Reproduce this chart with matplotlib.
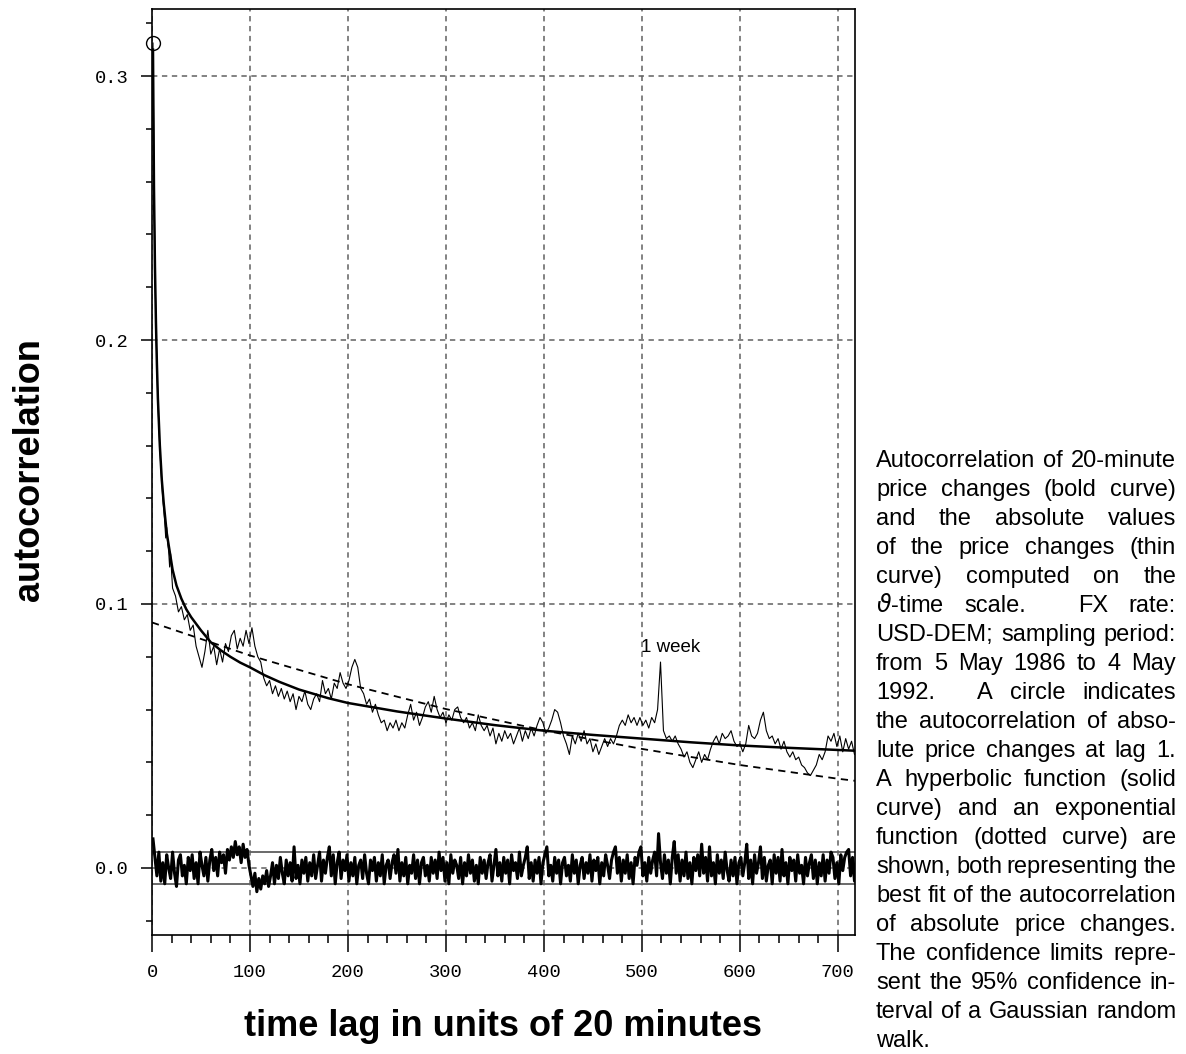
import numpy as np
import matplotlib
matplotlib.use('Agg')
from matplotlib import pyplot as plt
from matplotlib.ticker import MultipleLocator

W, H = 1186, 1054

# autocorrelation of absolute price changes (thin curve), lags 1..20
abs_lags_start = list(range(1, 21))
abs_start = [0.3125, 0.262, 0.229, 0.206, 0.190, 0.177, 0.167, 0.159, 0.152, 0.146,
             0.140, 0.136, 0.131, 0.125, 0.129, 0.123, 0.120, 0.114, 0.119, 0.112]

# same curve, lags 21, 24, ..., 717
abs_vals = [
    0.106, 0.103, 0.097, 0.099, 0.094, 0.096, 0.090, 0.092, 0.084, 0.080,
    0.076, 0.082, 0.090, 0.081, 0.084, 0.077, 0.083, 0.078, 0.085, 0.082,
    0.088, 0.090, 0.083, 0.087, 0.084, 0.090, 0.085, 0.091, 0.084, 0.080,
    0.078, 0.072, 0.069, 0.071, 0.066, 0.069, 0.065, 0.068, 0.064, 0.067,
    0.063, 0.066, 0.060, 0.065, 0.063, 0.067, 0.062, 0.060, 0.064, 0.066,
    0.063, 0.071, 0.066, 0.068, 0.064, 0.070, 0.068, 0.074, 0.070, 0.068,
    0.071, 0.076, 0.079, 0.076, 0.068, 0.066, 0.062, 0.064, 0.059, 0.062,
    0.058, 0.055, 0.056, 0.052, 0.055, 0.053, 0.056, 0.052, 0.055, 0.053,
    0.058, 0.062, 0.056, 0.059, 0.054, 0.057, 0.061, 0.063, 0.059, 0.065,
    0.060, 0.057, 0.059, 0.055, 0.058, 0.056, 0.060, 0.061, 0.057, 0.055,
    0.057, 0.053, 0.055, 0.052, 0.058, 0.054, 0.052, 0.054, 0.050, 0.053,
    0.047, 0.051, 0.048, 0.052, 0.049, 0.051, 0.047, 0.050, 0.053, 0.048,
    0.052, 0.049, 0.053, 0.050, 0.054, 0.057, 0.055, 0.051, 0.053, 0.056,
    0.060, 0.059, 0.055, 0.050, 0.047, 0.043, 0.050, 0.047, 0.051, 0.048,
    0.052, 0.047, 0.049, 0.044, 0.047, 0.043, 0.046, 0.049, 0.046, 0.049,
    0.047, 0.050, 0.054, 0.056, 0.054, 0.058, 0.055, 0.057, 0.054, 0.057,
    0.054, 0.056, 0.053, 0.057, 0.055, 0.060, 0.078, 0.052, 0.049, 0.050,
    0.048, 0.050, 0.047, 0.045, 0.042, 0.044, 0.040, 0.038, 0.041, 0.044,
    0.040, 0.043, 0.041, 0.045, 0.048, 0.050, 0.047, 0.051, 0.049, 0.050,
    0.052, 0.048, 0.046, 0.047, 0.044, 0.047, 0.054, 0.050, 0.049, 0.051,
    0.056, 0.059, 0.052, 0.049, 0.050, 0.047, 0.049, 0.045, 0.048, 0.044,
    0.042, 0.044, 0.041, 0.042, 0.039, 0.038, 0.036, 0.035, 0.037, 0.039,
    0.043, 0.041, 0.044, 0.050, 0.048, 0.051, 0.046, 0.050, 0.044, 0.049,
    0.045, 0.048, 0.043,
]
abs_lags = [21 + 3 * i for i in range(len(abs_vals))]

# autocorrelation of price changes (bold curve), lags 1, 3, ..., 719
raw_vals = [
    0.011, 0.004, -0.003, 0.006, -0.005, 0.002, -0.006, 0.005, 0.000, -0.004,
    0.006, -0.002, -0.007, 0.003, 0.005, -0.003, 0.001, -0.006, 0.004, -0.001,
    0.005, -0.004, 0.002, -0.006, 0.006, 0.001, -0.003, 0.004, -0.005, 0.003,
    0.007, -0.001, 0.004, -0.003, 0.006, 0.002, 0.005, -0.002, 0.007, 0.003,
    0.008, 0.004, 0.010, 0.005, 0.008, 0.002, 0.009, 0.004, 0.007, 0.001,
    -0.003, -0.007, -0.002, -0.009, -0.004, -0.008, -0.003, -0.006, -0.001, -0.007,
    -0.003, 0.002, -0.006, 0.001, -0.004, 0.004, -0.002, -0.006, 0.003, -0.003,
    0.002, -0.005, 0.008, -0.004, 0.001, -0.006, 0.003, -0.002, 0.004, -0.005,
    0.002, -0.003, 0.005, -0.004, 0.001, 0.006, -0.005, 0.003, -0.002, 0.004,
    0.008, -0.003, 0.005, -0.006, 0.002, 0.006, -0.004, 0.003, -0.001, 0.005,
    -0.005, 0.002, -0.003, 0.004, -0.006, 0.001, 0.003, -0.004, 0.005, -0.002,
    -0.006, 0.003, -0.001, 0.004, -0.005, 0.002, -0.003, 0.005, -0.006, 0.001,
    0.003, -0.004, 0.002, 0.005, -0.002, 0.007, -0.005, 0.002, -0.003, 0.004,
    -0.006, 0.001, -0.002, 0.005, -0.004, 0.003, -0.006, 0.002, 0.004, -0.003,
    0.001, -0.005, 0.004, -0.002, 0.003, -0.004, 0.006, -0.001, 0.004, -0.005,
    0.002, -0.006, 0.005, -0.002, 0.003, 0.001, -0.004, 0.004, -0.006, 0.002,
    -0.003, 0.005, -0.002, 0.003, -0.005, 0.001, -0.006, 0.004, -0.002, 0.003,
    -0.004, 0.002, 0.005, -0.005, 0.001, 0.007, -0.003, 0.002, -0.005, 0.004,
    -0.002, 0.003, -0.006, 0.005, -0.001, 0.002, -0.004, 0.006, -0.003, 0.001,
    0.004, 0.008, -0.004, 0.002, -0.005, 0.003, -0.002, 0.004, -0.006, 0.002,
    0.005, 0.008, -0.003, 0.001, -0.005, 0.004, -0.002, 0.003, -0.006, 0.002,
    0.004, -0.003, 0.001, -0.005, 0.005, -0.002, 0.003, -0.006, 0.001, 0.004,
    -0.004, 0.002, -0.002, 0.005, -0.005, 0.003, -0.001, 0.004, -0.006, 0.002,
    -0.003, 0.005, 0.001, -0.004, 0.003, 0.006, 0.008, -0.002, 0.004, -0.005,
    0.003, -0.002, 0.005, -0.004, 0.002, -0.006, 0.004, 0.001, 0.006, 0.008,
    -0.003, 0.002, -0.005, 0.004, -0.002, 0.003, 0.006, -0.003, 0.013, 0.002,
    -0.004, 0.005, -0.002, 0.003, -0.006, 0.004, 0.010, -0.002, 0.005, -0.005,
    0.003, -0.003, 0.006, -0.004, 0.002, -0.006, 0.004, -0.001, 0.005, -0.003,
    0.009, -0.002, 0.004, -0.005, 0.008, -0.003, 0.002, -0.006, 0.005, -0.002,
    0.003, -0.004, 0.006, -0.001, -0.005, 0.003, -0.003, 0.004, -0.006, 0.002,
    0.004, -0.003, 0.002, 0.009, -0.004, 0.003, -0.006, 0.005, -0.002, 0.002,
    0.008, -0.004, 0.004, -0.005, 0.001, 0.003, -0.006, 0.005, -0.002, 0.004,
    -0.005, 0.007, -0.003, 0.002, -0.006, 0.004, -0.001, 0.003, -0.005, 0.005,
    -0.002, 0.001, -0.006, 0.004, -0.003, 0.002, 0.005, -0.004, 0.003, -0.006,
    0.002, -0.003, 0.005, -0.005, 0.003, -0.002, 0.006, 0.004, -0.004, 0.002,
    -0.006, 0.005, -0.001, 0.004, 0.006, 0.007, -0.003, 0.004, -0.005, 0.003,
]
raw_lags = [1 + 2 * i for i in range(len(raw_vals))]

# hyperbolic fit (solid)
hyp_lags = [1, 2, 3, 4, 5, 6, 8, 10, 12, 15, 18, 21, 25, 30, 35, 40, 50, 60, 70,
            80, 90, 100, 115, 130, 150, 180, 200, 250, 300, 350, 400, 450, 500,
            550, 600, 650, 700, 718]
hyp_vals = [0.310, 0.258, 0.228, 0.207, 0.191, 0.178, 0.160, 0.147, 0.138, 0.127,
            0.120, 0.113, 0.107, 0.102, 0.098, 0.095, 0.090, 0.0855, 0.0825,
            0.0800, 0.0778, 0.0760, 0.0730, 0.0705, 0.0676, 0.0643, 0.0625,
            0.0593, 0.0566, 0.0541, 0.0520, 0.0504, 0.0490, 0.0476, 0.0464,
            0.0455, 0.0447, 0.0444]

# exponential fit (dashed)
exp_lags = [0, 100, 200, 300, 400, 500, 600, 700, 718]
exp_vals = [0.0930, 0.0805, 0.0696, 0.0602, 0.0521, 0.0451, 0.0390, 0.0338, 0.0330]

conf_limit = 0.006
circle_lag, circle_val = 1, 0.3125

caption = [
    "Autocorrelation of 20-minute",
    "price changes (bold curve)",
    "and the absolute values",
    "of the price changes (thin",
    "curve) computed on the",
    r"$\vartheta$-time scale. FX rate:",
    "USD-DEM; sampling period:",
    "from 5 May 1986 to 4 May",
    "1992. A circle indicates",
    "the autocorrelation of abso-",
    "lute price changes at lag 1.",
    "A hyperbolic function (solid",
    "curve) and an exponential",
    "function (dotted curve) are",
    "shown, both representing the",
    "best fit of the autocorrelation",
    "of absolute price changes.",
    "The confidence limits repre-",
    "sent the 95% confidence in-",
    "terval of a Gaussian random",
    "walk.",
]

sans = ['Liberation Sans', 'DejaVu Sans']
mono = ['Liberation Mono', 'DejaVu Sans Mono']

fig = plt.figure(figsize=(W / 100, H / 100), dpi=100)
ax = fig.add_axes([152 / W, 1 - 935 / H, (855 - 152) / W, (935 - 9) / H])

ax.grid(True, which='major', color='#606060', linestyle=(0, (3.5, 3)), linewidth=1.1, zorder=0)
ax.axhline(conf_limit, color='#505050', lw=1.2, zorder=1)
ax.axhline(-conf_limit, color='#505050', lw=1.2, zorder=1)

ax.plot(exp_lags, exp_vals, color='black', lw=1.3, linestyle=(0, (4, 3)), zorder=2)
ax.plot(hyp_lags, hyp_vals, color='black', lw=1.8, zorder=3)
ax.plot(abs_lags_start + abs_lags, abs_start + abs_vals, color='black', lw=0.8, zorder=4)
ax.plot(raw_lags, raw_vals, color='black', lw=2.2, zorder=4)
ax.plot([circle_lag], [circle_val], marker='o', ms=10, mfc='none', mec='black', mew=1.0,
        linestyle='none', zorder=5, clip_on=False)

ax.text(499, 0.0837, "1 week", fontsize=13.5, family=sans, va='center', ha='left')

ax.set_xlim(0, 717.5)
ax.set_ylim(-0.0254, 0.3254)
ax.xaxis.set_major_locator(MultipleLocator(100))
ax.xaxis.set_minor_locator(MultipleLocator(20))
ax.yaxis.set_major_locator(MultipleLocator(0.1))
ax.yaxis.set_minor_locator(MultipleLocator(0.02))
ax.yaxis.set_major_formatter(plt.FuncFormatter(lambda v, p: f"{v:.1f}"))
ax.tick_params(axis='x', which='major', direction='out', length=12, width=1.1, pad=9)
ax.tick_params(axis='x', which='minor', direction='out', length=6, width=1.1)
ax.tick_params(axis='y', which='major', direction='out', length=7.7, width=1.1, pad=9)
ax.tick_params(axis='y', which='minor', direction='out', length=4, width=1.1)
for lab in ax.get_xticklabels() + ax.get_yticklabels():
    lab.set_family(mono)
    lab.set_fontsize(13.5)
for s in ax.spines.values():
    s.set_linewidth(1.2)

fig.text(503 / W, 1 - 1027 / H, "time lag in units of 20 minutes", fontsize=26,
         fontweight='bold', family=sans, ha='center', va='center')
fig.text(30 / W, 1 - 470 / H, "autocorrelation", fontsize=26, fontweight='bold',
         family=sans, ha='center', va='center', rotation=90)

# justified caption on the right, extra stretch after sentence ends (like TeX)
cap_x0, cap_x1 = 876, 1176
cap_base, cap_step = 467, 29
cap_size = 17
space = 0.278 * cap_size * 100 / 72
renderer = fig.canvas.get_renderer()
for i, line in enumerate(caption):
    y = 1 - (cap_base + i * cap_step) / H
    words = line.split()
    texts = [fig.text(0, y, w, fontsize=cap_size, family=sans, va='baseline') for w in words]
    widths = [t.get_window_extent(renderer).width for t in texts]
    nat, wt = [], []
    for w in words[:-1]:
        if w[-1] in '.:':
            nat.append(space * 1.4)
            wt.append(3.0)
        elif w[-1] in ',;':
            nat.append(space * 1.1)
            wt.append(1.5)
        else:
            nat.append(space)
            wt.append(1.0)
    if i == len(caption) - 1 or len(words) == 1:
        gaps = nat
    else:
        extra = cap_x1 - cap_x0 - sum(widths) - sum(nat)
        if extra >= 0:
            gaps = [n + extra * k / sum(wt) for n, k in zip(nat, wt)]
        else:
            gaps = [n + extra / len(nat) for n in nat]
    x = cap_x0
    for j, t in enumerate(texts):
        t.set_x(x / W)
        if j < len(gaps):
            x += widths[j] + gaps[j]

fig.savefig('out.png', dpi=100)
